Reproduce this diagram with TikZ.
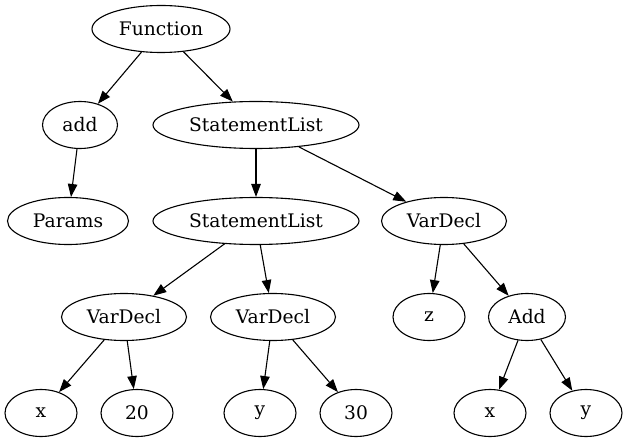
\documentclass[tikz,border=0pt]{standalone}
\usepackage{fontspec}
\setmainfont{DejaVu Serif}
\usetikzlibrary{shapes.geometric,arrows.meta}
\begin{document}
\begin{tikzpicture}[x=1pt,y=-1pt,
  every node/.style={font=\fontsize{18.67}{22}\selectfont},
  nd/.style={ellipse,draw,line width=1.1pt,inner sep=0pt,minimum height=47pt},
  edge/.style={draw,line width=1.1pt,-{Triangle[length=13pt,width=9.5pt]}}]
\useasboundingbox (0,0) rectangle (628,443);
\node[nd,minimum width=138pt] (F) at (161,29) {Function};
\node[nd,minimum width=75pt] (add) at (80,125) {add};
\node[nd,minimum width=206pt] (sl1) at (256,125) {StatementList};
\node[nd,minimum width=121pt] (params) at (68,221) {Params};
\node[nd,minimum width=206pt] (sl2) at (256,221) {StatementList};
\node[nd,minimum width=125pt] (vdr) at (444,221) {VarDecl};
\node[nd,minimum width=125pt] (vdl) at (124,317) {VarDecl};
\node[nd,minimum width=125pt] (vdm) at (273,317) {VarDecl};
\node[nd,minimum width=72pt] (z) at (429,317) {z};
\node[nd,minimum width=77pt] (addn) at (527,317) {Add};
\node[nd,minimum width=72pt] (x1) at (41,413) {x};
\node[nd,minimum width=72pt] (n20) at (137,413) {20};
\node[nd,minimum width=72pt] (y1) at (260,413) {y};
\node[nd,minimum width=72pt] (n30) at (356,413) {30};
\node[nd,minimum width=72pt] (x2) at (490,413) {x};
\node[nd,minimum width=72pt] (y2) at (586,413) {y};
\draw[edge] (F) -- (add);
\draw[edge] (F) -- (sl1);
\draw[edge] (add) -- (params);
\draw[edge] (sl1) -- (sl2);
\draw[edge] (sl1) -- (vdr);
\draw[edge] (sl2) -- (vdl);
\draw[edge] (sl2) -- (vdm);
\draw[edge] (vdr) -- (z);
\draw[edge] (vdr) -- (addn);
\draw[edge] (vdl) -- (x1);
\draw[edge] (vdl) -- (n20);
\draw[edge] (vdm) -- (y1);
\draw[edge] (vdm) -- (n30);
\draw[edge] (addn) -- (x2);
\draw[edge] (addn) -- (y2);
\end{tikzpicture}
\end{document}
